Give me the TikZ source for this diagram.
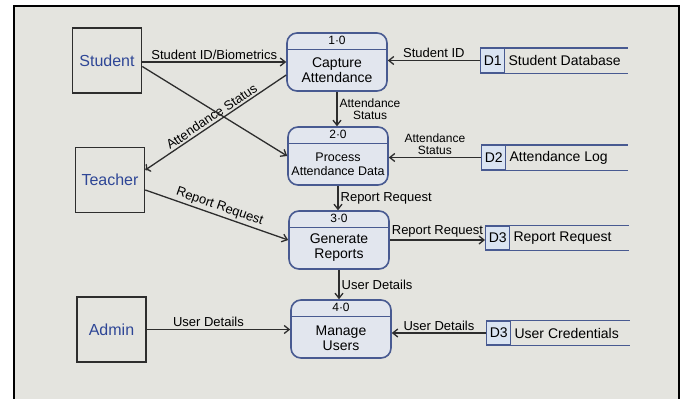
\documentclass[tikz,border=0pt]{standalone}
\usepackage{fontspec}
\setmainfont{Liberation Sans}
\usetikzlibrary{positioning,arrows.meta}

\definecolor{board}{RGB}{228,228,223}
\definecolor{procblue}{RGB}{72,90,145}
\definecolor{procfill}{RGB}{226,230,238}
\definecolor{idfill}{RGB}{218,228,242}
\definecolor{inkblue}{RGB}{46,70,150}
\definecolor{ink}{RGB}{45,45,45}

\tikzset{
    entity/.style={draw=ink, line width=1.6pt, minimum width=69pt, minimum height=65pt,
        text=inkblue, font=\fontsize{16}{18}\selectfont},
    process/.style={draw=procblue, fill=procfill, line width=1.6pt, rounded corners=10pt,
        minimum width=100pt, minimum height=58pt},
    procnum/.style={font=\fontsize{12}{13}\selectfont},
    procname/.style={align=center, font=\fontsize{14}{15}\selectfont},
    storeid/.style={draw=procblue, fill=idfill, line width=1.4pt, minimum width=24pt,
        minimum height=24pt, inner sep=1pt, font=\fontsize{14}{15}\selectfont},
    storeline/.style={draw=procblue, line width=1.4pt},
    storename/.style={font=\fontsize{14}{15}\selectfont, inner sep=3pt},
    flow/.style={draw=ink, line width=1.3pt, -{Straight Barb[length=5pt,width=8pt]}},
    flowlabel/.style={font=\fontsize{13}{14}\selectfont, text=black, inner sep=2pt}
}

\begin{document}
\begin{tikzpicture}[x=1pt,y=-1pt]

    \useasboundingbox (0,0) rectangle (686,399);

    % whiteboard
    \fill[white] (0,0) rectangle (686,399);
    \fill[board] (14,6) rectangle (679,399);
    \draw[black, line width=2.2pt] (14,399) -- (14,6) -- (679,6) -- (679,399);

    % external entities
    \node[entity] (student) at (107,60.5) {Student};
    \node[entity] (teacher) at (110,180) {Teacher};
    \node[entity] (admin) at (111.5,329.5) {Admin};

    % processes
    \node[process] (p1) at (337,62) {};
    \node[process] (p2) at (338,156) {};
    \node[process] (p3) at (339,240) {};
    \node[process] (p4) at (341,329) {};

    \draw[procblue, line width=1.4pt] ([yshift=-17pt]p1.north west) -- ([yshift=-17pt]p1.north east);
    \draw[procblue, line width=1.4pt] ([yshift=-17pt]p2.north west) -- ([yshift=-17pt]p2.north east);
    \draw[procblue, line width=1.4pt] ([yshift=-17pt]p3.north west) -- ([yshift=-17pt]p3.north east);
    \draw[procblue, line width=1.4pt] ([yshift=-17pt]p4.north west) -- ([yshift=-17pt]p4.north east);

    \node[procnum] (n1) at ([yshift=-8.5pt]p1.north) {1·0};
    \node[procnum] (n2) at ([yshift=-8.5pt]p2.north) {2·0};
    \node[procnum] (n3) at ([yshift=-8.5pt]p3.north) {3·0};
    \node[procnum] (n4) at ([yshift=-8.5pt]p4.north) {4·0};

    \node[procname] (t1) at ([yshift=-8pt]p1.center) {Capture\\Attendance};
    \node[procname, font=\fontsize{12.5}{14}\selectfont] (t2) at ([yshift=-8pt]p2.center) {Process\\Attendance Data};
    \node[procname] (t3) at ([yshift=-8pt]p3.center) {Generate\\Reports};
    \node[procname] (t4) at ([yshift=-9pt]p4.center) {Manage\\Users};

    % data stores
    \node[storeid, anchor=west] (d1) at (480,60.5) {D1};
    \draw[storeline] (d1.north west) -- ++(148,0);
    \draw[storeline] (d1.south west) -- ++(148,0);
    \node[storename, right=0pt of d1] (s1) {Student Database};

    \node[storeid, anchor=west] (d2) at (481,157.5) {D2};
    \draw[storeline] (d2.north west) -- ++(147,0);
    \draw[storeline] (d2.south west) -- ++(147,0);
    \node[storename, right=0pt of d2] (s2) {Attendance Log};

    \node[storeid, anchor=west] (d3) at (485,238) {D3};
    \draw[storeline] (d3.north west) -- ++(144,0);
    \draw[storeline] (d3.south west) -- ++(144,0);
    \node[storename, right=0pt of d3] (s3) {Report Request};

    \node[storeid, anchor=west] (d4) at (486,333) {D3};
    \draw[storeline] (d4.north west) -- ++(144,0);
    \draw[storeline] (d4.south west) -- ++(144,0);
    \node[storename, right=0pt of d4] (s4) {User Credentials};

    % data flows
    \draw[flow] (student.east |- p1.west) -- (p1.west)
        node[flowlabel, midway, above] {Student ID/Biometrics};
    \draw[flow] (d1.west) -- (d1.west -| p1.east)
        node[flowlabel, midway, above] {Student ID};
    \draw[flow, <-] ([yshift=10pt]teacher.east) -- ([yshift=-13pt]p1.west)
        node[flowlabel, midway, above, sloped] {Attendance Status};
    \draw[flow] ([yshift=-6pt]student.east) -- (p2.west);
    \draw[flow] (p1.south) -- (p1.south |- p2.north)
        node[flowlabel, midway, right, align=center, font=\fontsize{12}{12}\selectfont] {Attendance\\Status};
    \draw[flow] (d2.west) -- (d2.west -| p2.east)
        node[flowlabel, midway, above, align=center, font=\fontsize{12}{12}\selectfont] {Attendance\\Status};
    \draw[flow] (p2.south) -- (p2.south |- p3.north)
        node[flowlabel, midway, right] {Report Request};
    \draw[flow] ([yshift=-10pt]teacher.east) -- (p3.west)
        node[flowlabel, midway, above, sloped] {Report Request};
    \draw[flow] (p3.east) -- (p3.east -| d3.west)
        node[flowlabel, midway, above] {Report Request};
    \draw[flow] (p3.south) -- (p3.south |- p4.north)
        node[flowlabel, midway, right] {User Details};
    \draw[flow] (admin.east) -- (admin.east -| p4.west)
        node[flowlabel, pos=0.43, above] {User Details};
    \draw[flow] (d4.west) -- (d4.west -| p4.east)
        node[flowlabel, midway, above] {User Details};

\end{tikzpicture}
\end{document}
